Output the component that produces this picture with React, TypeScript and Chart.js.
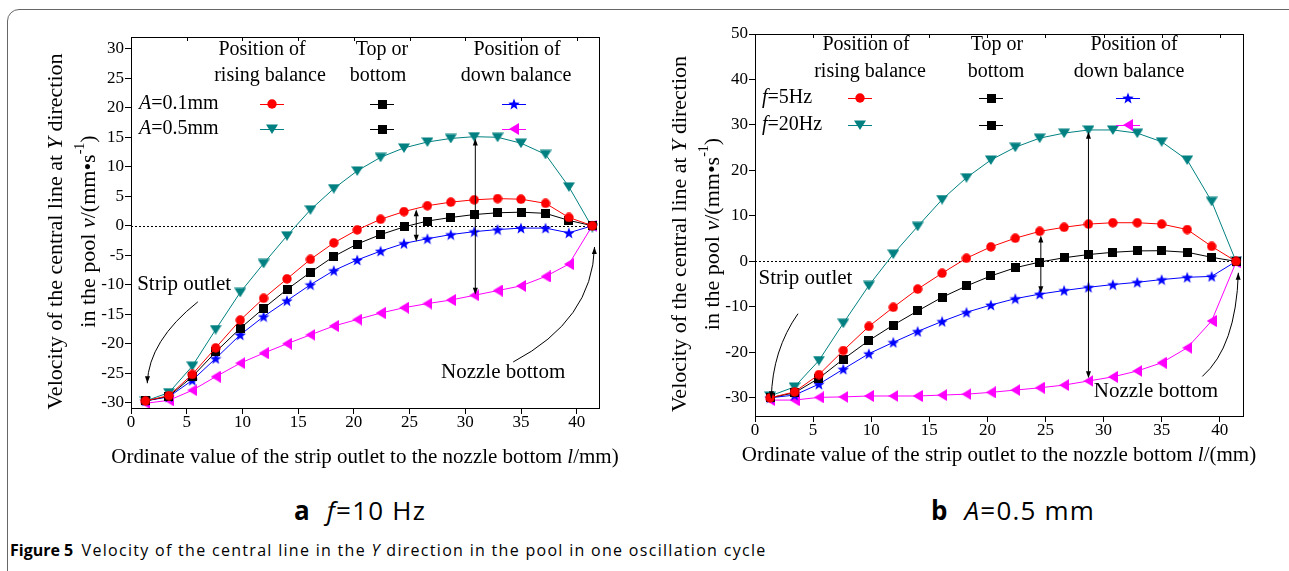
import React, { useEffect, useRef } from "react";
import { Chart, registerables } from "chart.js";

Chart.register(...registerables);

// ---------- DATA ----------
const xPositions = [1.3, 3.4, 5.5, 7.6, 9.8, 11.9, 14.0, 16.1, 18.2, 20.3, 22.4, 24.5, 26.6, 28.7, 30.8, 32.9, 35.0, 37.2, 39.3, 41.4];
const xTicks = [0, 5, 10, 15, 20, 25, 30, 35, 40];

// Panel a (f = 10 Hz)
const aRising01 = [-29.7, -28.8, -25.2, -20.7, -16.0, -12.3, -9.0, -5.7, -2.9, -0.7, 1.1, 2.4, 3.4, 4.0, 4.4, 4.6, 4.5, 3.8, 1.4, 0];
const aTop01 = [-29.7, -28.9, -25.6, -21.4, -17.4, -14.0, -10.8, -7.9, -5.2, -3.1, -1.5, -0.2, 0.8, 1.4, 1.9, 2.2, 2.3, 2.1, 0.9, 0];
const aDown01 = [-29.7, -29.0, -26.2, -22.5, -18.5, -15.4, -12.7, -10.0, -7.6, -5.8, -4.3, -3.0, -2.2, -1.5, -1.0, -0.65, -0.4, -0.4, -1.2, 0];
const aRising05 = [-29.7, -28.3, -23.8, -17.6, -11.3, -6.4, -1.7, 2.7, 6.3, 9.3, 11.6, 13.2, 14.2, 14.8, 15.1, 15.0, 14.0, 12.1, 6.6, -0.3];
const aDown05 = [-30.1, -29.6, -27.9, -25.6, -23.3, -21.6, -20.0, -18.5, -17.0, -15.9, -14.8, -13.9, -13.2, -12.6, -11.8, -11.0, -10.2, -8.6, -6.5, 0];
const aYTicks = [-30, -25, -20, -15, -10, -5, 0, 5, 10, 15, 20, 25, 30];

// Panel b (A = 0.5 mm)
const bRising5 = [-30.0, -28.7, -24.9, -19.6, -14.3, -10.1, -6.1, -2.6, 0.7, 3.2, 5.1, 6.6, 7.5, 8.2, 8.5, 8.5, 8.2, 7.0, 3.3, 0];
const bTop5 = [-30.0, -28.9, -25.7, -21.5, -17.4, -14.0, -10.9, -7.9, -5.4, -3.2, -1.4, -0.15, 0.8, 1.5, 2.0, 2.3, 2.35, 2.0, 0.9, 0];
const bDown5 = [-30.0, -29.4, -27.0, -23.7, -20.3, -17.8, -15.4, -13.2, -11.2, -9.6, -8.2, -7.2, -6.4, -5.7, -5.1, -4.6, -4.0, -3.5, -3.3, 0];
const bRising20 = [-29.6, -27.6, -21.8, -13.6, -5.3, 1.6, 7.7, 13.6, 18.4, 22.3, 25.1, 27.1, 28.2, 28.9, 28.9, 28.2, 26.3, 22.3, 13.2, 0];
const bDown20 = [-30.5, -30.5, -29.9, -29.8, -29.6, -29.6, -29.6, -29.4, -29.2, -28.8, -28.3, -27.8, -27.2, -26.3, -25.4, -24.1, -22.3, -19.0, -13.1, -0.2];
const bYTicks = [-30, -20, -10, 0, 10, 20, 30, 40, 50];

// ---------- STYLE / LAYOUT ----------
const SERIF = '"Liberation Serif", "Times New Roman", serif';
const SANS = '"Open Sans", "Noto Sans", sans-serif';

type Seg = { t: string; i?: boolean; sup?: boolean };

function makeMarker(kind: string, color: string): HTMLCanvasElement {
  let w = 10, h = 10;
  if (kind === "star") { w = 12; h = 12; }
  if (kind === "triDown") { w = 12; h = 10; }
  if (kind === "triLeft") { w = 10; h = 12; }
  if (kind === "square") { w = 9; h = 9; }
  const c = document.createElement("canvas");
  c.width = w; c.height = h;
  const g = c.getContext("2d")!;
  g.fillStyle = color;
  g.beginPath();
  if (kind === "circle") g.arc(w / 2, h / 2, w / 2 - 0.3, 0, Math.PI * 2);
  else if (kind === "square") g.rect(0, 0, w, h);
  else if (kind === "triDown") { g.moveTo(0, 0.5); g.lineTo(w, 0.5); g.lineTo(w / 2, h); }
  else if (kind === "triLeft") { g.moveTo(0, h / 2); g.lineTo(w, 0); g.lineTo(w, h); }
  else if (kind === "star") {
    const cx = w / 2, cy = h / 2 + 0.6, R = w / 2, r = R * 0.42;
    for (let k = 0; k < 10; k++) {
      const ang = -Math.PI / 2 + (k * Math.PI) / 5;
      const rad = k % 2 === 0 ? R : r;
      const px = cx + rad * Math.cos(ang), py = cy + rad * Math.sin(ang);
      if (k === 0) g.moveTo(px, py); else g.lineTo(px, py);
    }
  }
  g.closePath();
  g.fill();
  return c;
}

function drawRich(ctx: CanvasRenderingContext2D, segs: Seg[], x: number, y: number, size: number, align: "left" | "center" | "right") {
  const fontFor = (s: Seg) => `${s.i ? "italic " : ""}${s.sup ? Math.round(size * 0.62) : size}px ${SERIF}`;
  const widths = segs.map((s) => { ctx.font = fontFor(s); return ctx.measureText(s.t).width; });
  const total = widths.reduce((a, b) => a + b, 0);
  let cx = align === "center" ? x - total / 2 : align === "right" ? x - total : x;
  ctx.textAlign = "left";
  ctx.textBaseline = "middle";
  segs.forEach((s, k) => {
    ctx.font = fontFor(s);
    ctx.fillText(s.t, cx, s.sup ? y - size * 0.38 : y);
    cx += widths[k];
  });
}

function arrowHead(ctx: CanvasRenderingContext2D, x: number, y: number, ang: number) {
  const len = 7, half = 2.5;
  ctx.beginPath();
  ctx.moveTo(x, y);
  ctx.lineTo(x - len * Math.cos(ang) + half * Math.sin(ang), y - len * Math.sin(ang) - half * Math.cos(ang));
  ctx.lineTo(x - len * Math.cos(ang) - half * Math.sin(ang), y - len * Math.sin(ang) + half * Math.cos(ang));
  ctx.closePath();
  ctx.fill();
}

type Series = { values: number[]; color: string; marker: string };
type PanelCfg = {
  series: Series[];
  yMin: number; yMax: number; yTicks: number[];
  yTitle: Seg[][]; xTitle: Seg[]; xTitleOffset: number;
  headers: { lines: string[]; x: number[] }[]; headerY: number[];
  rows: { label: Seg[]; y: number; markers: [string, string][] }[];
  rowLabelX: number; markerX: number[];
  doubleArrows: { x: number; y1: number; y2: number }[];
  curves: { from: number[]; ctrl: number[]; to: number[] }[];
  texts: { t: string; x: number; y: number; align: "left" | "center" }[];
  padding: { left: number; right: number; top: number; bottom: number };
};

const RED = "#ff0000", BLACK = "#000000", BLUE = "#0000ff", TEAL = "#008080", MAGENTA = "#ff00ff";

const yTitleSegs: Seg[][] = [
  [{ t: "Velocity of the central line at " }, { t: "Y", i: true }, { t: " direction" }],
  [{ t: "in the pool " }, { t: "v", i: true }, { t: "/(mm\u2022s" }, { t: "-1", sup: true }, { t: ")" }],
];

const panelA: PanelCfg = {
  series: [
    { values: aRising01, color: RED, marker: "circle" },
    { values: aTop01, color: BLACK, marker: "square" },
    { values: aDown01, color: BLUE, marker: "star" },
    { values: aRising05, color: TEAL, marker: "triDown" },
    { values: aDown05, color: MAGENTA, marker: "triLeft" },
  ],
  yMin: -30.9, yMax: 32, yTicks: aYTicks,
  yTitle: yTitleSegs,
  xTitle: [{ t: "Ordinate value of the strip outlet to the nozzle bottom " }, { t: "l", i: true }, { t: "/mm)" }],
  xTitleOffset: 49,
  headers: [
    { lines: ["Position of", "rising balance"], x: [131, 139] },
    { lines: ["Top or", "bottom"], x: [251, 247] },
    { lines: ["Position of", "down balance"], x: [386, 385] },
  ],
  headerY: [13, 39],
  rows: [
    { label: [{ t: "A", i: true }, { t: "=0.1mm" }], y: 67, markers: [["circle", RED], ["square", BLACK], ["star", BLUE]] },
    { label: [{ t: "A", i: true }, { t: "=0.5mm" }], y: 92, markers: [["triDown", TEAL], ["square", BLACK], ["triLeft", MAGENTA]] },
  ],
  rowLabelX: 8, markerX: [141, 251, 383],
  doubleArrows: [{ x: 25.6, y1: 2.8, y2: -2.7 }, { x: 30.9, y1: 14.8, y2: -11.7 }],
  curves: [
    { from: [6.0, -12.9], ctrl: [1.6, -19.5], to: [1.46, -26.7] },
    { from: [34.3, -23.1], ctrl: [41.4, -16.0], to: [41.6, -3.6] },
  ],
  texts: [
    { t: "Strip outlet", x: 0.55, y: -9.9, align: "left" },
    { t: "Nozzle bottom", x: 33.4, y: -24.8, align: "center" },
  ],
  padding: { left: 91, right: 41, top: 37, bottom: 32 },
};

const panelB: PanelCfg = {
  series: [
    { values: bRising5, color: RED, marker: "circle" },
    { values: bTop5, color: BLACK, marker: "square" },
    { values: bDown5, color: BLUE, marker: "star" },
    { values: bRising20, color: TEAL, marker: "triDown" },
    { values: bDown20, color: MAGENTA, marker: "triLeft" },
  ],
  yMin: -34, yMax: 50, yTicks: bYTicks,
  yTitle: yTitleSegs,
  xTitle: [{ t: "Ordinate value of the strip outlet to the nozzle bottom " }, { t: "l", i: true }, { t: "/(mm)" }],
  xTitleOffset: 39,
  headers: [
    { lines: ["Position of", "rising balance"], x: [111, 115] },
    { lines: ["Top or", "bottom"], x: [242, 241] },
    { lines: ["Position of", "down balance"], x: [379, 374] },
  ],
  headerY: [11, 38],
  rows: [
    { label: [{ t: "f", i: true }, { t: "=5Hz" }], y: 64, markers: [["circle", RED], ["square", BLACK], ["star", BLUE]] },
    { label: [{ t: "f", i: true }, { t: "=20Hz" }], y: 91, markers: [["triDown", TEAL], ["square", BLACK], ["triLeft", MAGENTA]] },
  ],
  rowLabelX: 7, markerX: [105, 236, 373],
  doubleArrows: [{ x: 24.6, y1: 5.7, y2: -7.0 }, { x: 28.7, y1: 28.5, y2: -25.7 }],
  curves: [
    { from: [3.7, -11.5], ctrl: [1.5, -19.5], to: [1.4, -30.1] },
    { from: [38.5, -25.3], ctrl: [41.4, -18.8], to: [41.6, -2.5] },
  ],
  texts: [
    { t: "Strip outlet", x: 0.3, y: -3.8, align: "left" },
    { t: "Nozzle bottom", x: 34.5, y: -28.7, align: "center" },
  ],
  padding: { left: 75, right: 46, top: 34, bottom: 24 },
};

function Panel({ cfg, left, width }: { cfg: PanelCfg; left: number; width: number }) {
  const ref = useRef<HTMLCanvasElement>(null);
  useEffect(() => {
    const canvas = ref.current!;
    const annot = {
      id: "annot",
      beforeDatasetsDraw(chart: any) {
        const { ctx, chartArea: a, scales } = chart;
        const y0 = scales.y.getPixelForValue(0);
        ctx.save();
        ctx.strokeStyle = "#000";
        ctx.lineWidth = 1;
        ctx.setLineDash([2, 2]);
        ctx.beginPath();
        ctx.moveTo(a.left, Math.round(y0) + 0.5);
        ctx.lineTo(a.right, Math.round(y0) + 0.5);
        ctx.stroke();
        ctx.restore();
      },
      afterDatasetsDraw(chart: any) {
        const { ctx, chartArea: a, scales } = chart;
        const px = (v: number) => scales.x.getPixelForValue(v);
        const py = (v: number) => scales.y.getPixelForValue(v);
        ctx.save();
        ctx.strokeStyle = "#000";
        ctx.lineWidth = 1;
        ctx.strokeRect(Math.round(a.left) + 0.5, Math.round(a.top) + 0.5, Math.round(a.right - a.left), Math.round(a.bottom - a.top));
        xTicks.forEach((v) => {
          const x = Math.round(px(v)) + 0.5;
          ctx.beginPath(); ctx.moveTo(x, a.top); ctx.lineTo(x, a.top + 4); ctx.stroke();
        });
        ctx.fillStyle = "#000";
        cfg.doubleArrows.forEach((d) => {
          const x = px(d.x), ya = py(d.y1), yb = py(d.y2);
          ctx.beginPath(); ctx.moveTo(x, ya + 3); ctx.lineTo(x, yb - 3); ctx.stroke();
          arrowHead(ctx, x, ya, -Math.PI / 2);
          arrowHead(ctx, x, yb, Math.PI / 2);
        });
        cfg.curves.forEach((c) => {
          const fx = px(c.from[0]), fy = py(c.from[1]);
          const cx = px(c.ctrl[0]), cy = py(c.ctrl[1]);
          const tx = px(c.to[0]), ty = py(c.to[1]);
          ctx.beginPath(); ctx.moveTo(fx, fy); ctx.quadraticCurveTo(cx, cy, tx, ty); ctx.stroke();
          arrowHead(ctx, tx, ty, Math.atan2(ty - cy, tx - cx));
        });
        cfg.texts.forEach((t) => {
          drawRich(ctx, [{ t: t.t }], px(t.x), py(t.y), 21, t.align);
        });
        cfg.headers.forEach((hd) => {
          hd.lines.forEach((ln, j) => {
            drawRich(ctx, [{ t: ln }], a.left + hd.x[j], a.top + cfg.headerY[j], 20, "center");
          });
        });
        cfg.rows.forEach((row) => {
          const y = a.top + row.y;
          drawRich(ctx, row.label, a.left + cfg.rowLabelX, y, 20, "left");
          row.markers.forEach(([kind, color], k) => {
            const x = a.left + cfg.markerX[k];
            ctx.strokeStyle = color;
            ctx.beginPath(); ctx.moveTo(x - 12, Math.round(y) + 0.5); ctx.lineTo(x + 12, Math.round(y) + 0.5); ctx.stroke();
            const img = makeMarker(kind, color);
            ctx.drawImage(img, Math.round(x - img.width / 2), Math.round(y - img.height / 2));
          });
        });
        ctx.restore();
      },
      afterDraw(chart: any) {
        const { ctx, chartArea: a, scales } = chart;
        ctx.save();
        ctx.fillStyle = "#000";
        xTicks.forEach((v) => {
          drawRich(ctx, [{ t: String(v) }], scales.x.getPixelForValue(v), a.bottom + 15, 17, "center");
        });
        cfg.yTicks.forEach((v) => {
          drawRich(ctx, [{ t: String(v) }], a.left - 7, scales.y.getPixelForValue(v), 17, "right");
        });
        const cy = (a.top + a.bottom) / 2 + 9;
        const xs = [a.left - 75, a.left - 42];
        cfg.yTitle.forEach((segs, k) => {
          ctx.save();
          ctx.translate(xs[k], cy);
          ctx.rotate(-Math.PI / 2);
          drawRich(ctx, segs, 0, 0, 22, "center");
          ctx.restore();
        });
        drawRich(ctx, cfg.xTitle, (a.left + a.right) / 2, a.bottom + cfg.xTitleOffset, 21, "center");
        ctx.restore();
      },
    };

    const chart = new Chart(canvas, {
      type: "line",
      data: {
        datasets: cfg.series.map((s) => ({
          data: xPositions.map((x, i) => ({ x, y: s.values[i] })),
          borderColor: s.color,
          backgroundColor: s.color,
          borderWidth: 1,
          pointStyle: makeMarker(s.marker, s.color) as any,
          pointRadius: 5,
          tension: 0,
        })),
      },
      options: {
        animation: false,
        responsive: false,
        layout: { padding: cfg.padding },
        plugins: { legend: { display: false }, tooltip: { enabled: false } },
        scales: {
          x: {
            type: "linear",
            min: 0,
            max: 42,
            afterBuildTicks: (s: any) => { s.ticks = xTicks.map((v) => ({ value: v })); },
            afterFit: (s: any) => { s.height = 30; },
            ticks: { display: false },
            grid: { drawOnChartArea: false, drawTicks: true, tickLength: 6, color: "#000" },
            border: { color: "#000", width: 1 },
          },
          y: {
            type: "linear",
            min: cfg.yMin,
            max: cfg.yMax,
            afterBuildTicks: (s: any) => { s.ticks = cfg.yTicks.map((v) => ({ value: v })); },
            afterFit: (s: any) => { s.width = 40; },
            ticks: { display: false },
            grid: { drawOnChartArea: false, drawTicks: true, tickLength: 6, color: "#000" },
            border: { color: "#000", width: 1 },
          },
        },
      },
      plugins: [annot],
    } as any);
    return () => chart.destroy();
  }, []);
  return (
    <canvas ref={ref} width={width} height={470} style={{ position: "absolute", left, top: 0, width, height: 470 }} />
  );
}

export default function App() {
  return (
    <div style={{ position: "absolute", left: 0, top: 0, width: 1289, height: 571, overflow: "hidden", background: "#fff" }}>
      <div
        style={{
          position: "absolute", left: 7, top: 9, width: 1300, height: 600,
          border: "1px solid #666", borderRadius: 12, boxSizing: "border-box",
        }}
      />
      <Panel cfg={panelA} left={0} width={640} />
      <Panel cfg={panelB} left={640} width={649} />
      <div style={{ position: "absolute", left: 220, width: 280, top: 492, textAlign: "center", fontFamily: SANS, fontSize: 26, lineHeight: "36px", letterSpacing: 1.2, color: "#000", whiteSpace: "nowrap" }}>
        <b>a</b>&nbsp;&nbsp;<i>f</i>=10 Hz
      </div>
      <div style={{ position: "absolute", left: 873, width: 280, top: 492, textAlign: "center", fontFamily: SANS, fontSize: 26, lineHeight: "36px", letterSpacing: 1.2, color: "#000", whiteSpace: "nowrap" }}>
        <b>b</b>&nbsp;&nbsp;<i>A</i>=0.5 mm
      </div>
      <div style={{ position: "absolute", left: 10, top: 539, fontFamily: SANS, fontSize: 16, lineHeight: "22px", color: "#000", whiteSpace: "nowrap" }}>
        <b>Figure 5</b>&nbsp;&nbsp;<span style={{ letterSpacing: 1.3 }}>Velocity of the central line in the <i>Y</i> direction in the pool in one oscillation cycle</span>
      </div>
    </div>
  );
}
